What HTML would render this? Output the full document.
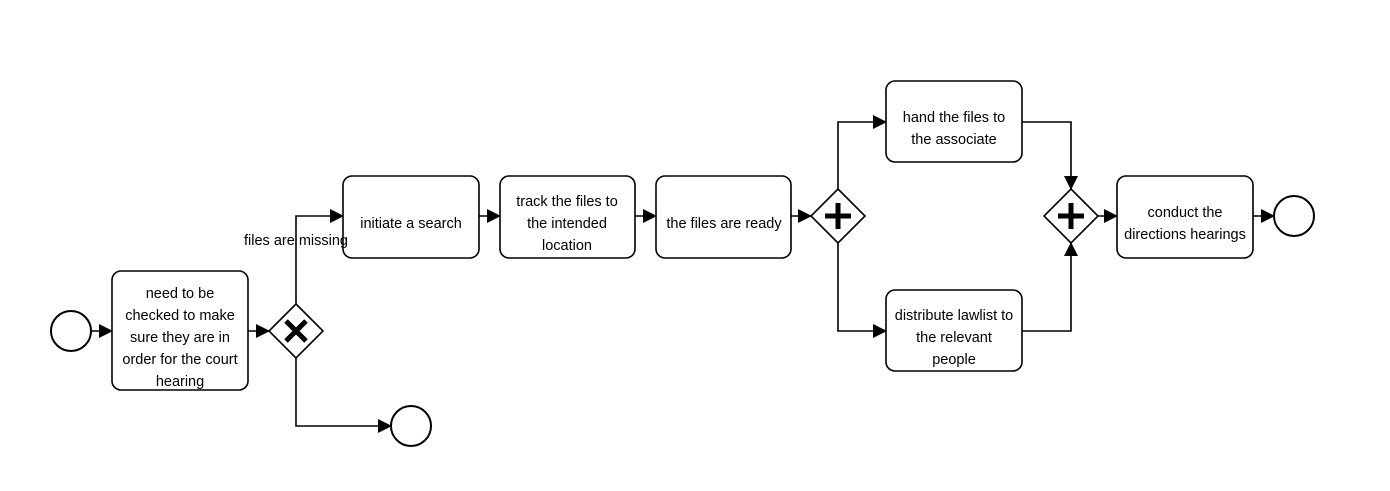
<!DOCTYPE html>
<html><head><style>body{margin:0;background:#fff}svg{display:block}text{font-family:"Liberation Sans",Arial,sans-serif;font-size:14.5px;fill:#000}</style></head>
<body>
<svg width="1390" height="491" viewBox="0 0 1390 491" xmlns="http://www.w3.org/2000/svg">
<defs><marker id="a" markerWidth="14" markerHeight="14" refX="13" refY="7" orient="auto" markerUnits="userSpaceOnUse"><path d="M0,0 L14,7 L0,14 z" fill="#000"/></marker></defs>
<g fill="none" stroke="#000" stroke-width="1.6">
<circle cx="71" cy="331" r="20" stroke-width="2"/>
<circle cx="411" cy="426" r="20" stroke-width="2"/>
<circle cx="1294" cy="216" r="20" stroke-width="2"/>
<rect x="112" y="271" width="136" height="119" rx="9"/>
<rect x="343" y="176" width="136" height="82" rx="9"/>
<rect x="500" y="176" width="135" height="82" rx="9"/>
<rect x="656" y="176" width="135" height="82" rx="9"/>
<rect x="886" y="81" width="136" height="81" rx="9"/>
<rect x="886" y="290" width="136" height="81" rx="9"/>
<rect x="1117" y="176" width="136" height="82" rx="9"/>
<path d="M296,304 L323,331 L296,358 L269,331 Z"/>
<path d="M838,189 L865,216 L838,243 L811,216 Z"/>
<path d="M1071,189 L1098,216 L1071,243 L1044,216 Z"/>
<g marker-end="url(#a)">
<path d="M91,331 H112"/>
<path d="M248,331 H269"/>
<path d="M296,304 V216 H343"/>
<path d="M296,358 V426 H391"/>
<path d="M479,216 H500"/>
<path d="M635,216 H656"/>
<path d="M791,216 H811"/>
<path d="M838,189 V122 H886"/>
<path d="M838,243 V331 H886"/>
<path d="M1022,122 H1071 V189"/>
<path d="M1022,331 H1071 V243"/>
<path d="M1098,216 H1117"/>
<path d="M1253,216 H1274"/>
</g>
</g>
<g stroke="#000" stroke-width="5" stroke-linecap="butt">
<path d="M286,321 L306,341 M306,321 L286,341"/>
<path d="M838,203 V229 M825,216 H851"/>
<path d="M1071,203 V229 M1058,216 H1084"/>
</g>
<g text-anchor="middle">
<text x="180" y="298">need to be</text>
<text x="180" y="320">checked to make</text>
<text x="180" y="342">sure they are in</text>
<text x="180" y="364">order for the court</text>
<text x="180" y="386">hearing</text>
<text x="296" y="245">files are missing</text>
<text x="411" y="228">initiate a search</text>
<text x="567" y="206">track the files to</text>
<text x="567" y="228">the intended</text>
<text x="567" y="250">location</text>
<text x="724" y="228">the files are ready</text>
<text x="954" y="122">hand the files to</text>
<text x="954" y="144">the associate</text>
<text x="954" y="320">distribute lawlist to</text>
<text x="954" y="342">the relevant</text>
<text x="954" y="364">people</text>
<text x="1185" y="217">conduct the</text>
<text x="1185" y="239">directions hearings</text>
</g>
</svg>
</body></html>
